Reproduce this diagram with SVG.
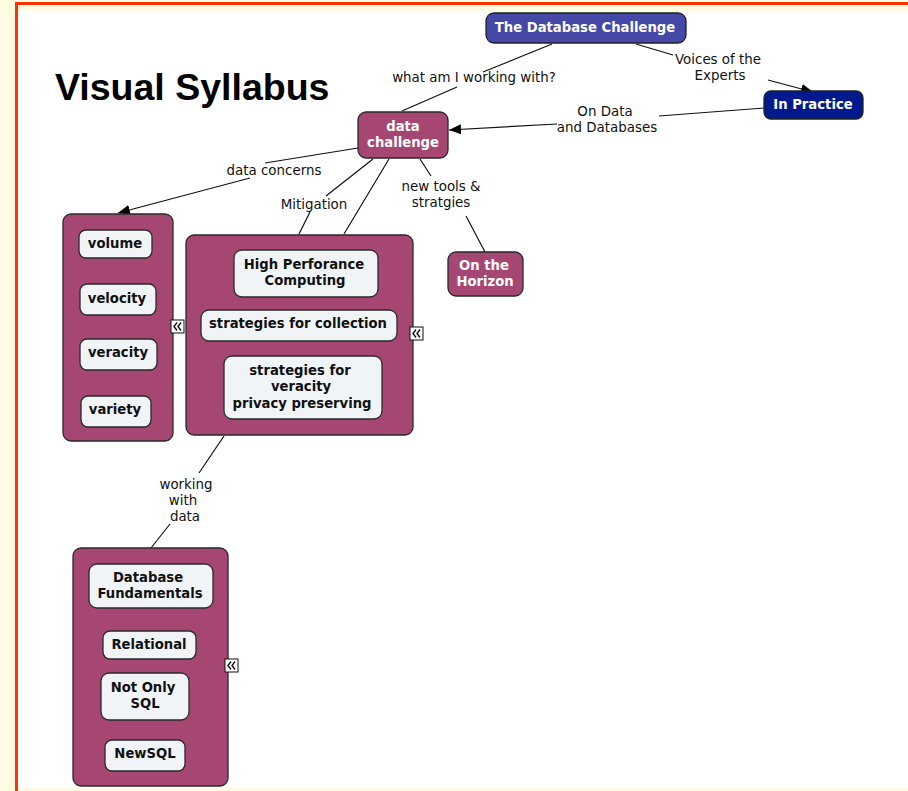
<svg xmlns="http://www.w3.org/2000/svg" width="908" height="791" viewBox="0 0 908 791">
  <style>
    .lbl { font-family: "DejaVu Sans", Verdana, sans-serif; font-size: 13.4px; fill: #111; text-anchor: middle; }
    .nt { font-family: "DejaVu Sans", Verdana, sans-serif; font-size: 13.2px; font-weight: bold; text-anchor: middle; }
    .w { fill: #fff; }
    .k { fill: #111; }
    .mag { fill: #A64673; stroke: #2a2a2a; stroke-width: 1.3; }
    .inner { fill: #F0F4F7; stroke: #2a2a2a; stroke-width: 1.3; }
    .con { stroke: #111; stroke-width: 1.2; fill: none; }
    .icon rect { fill: #fff; stroke: #111; stroke-width: 1; }
    .icon path { fill: none; stroke: #111; stroke-width: 1.4; }
  </style>
  <defs>
    <marker id="arr" viewBox="0 0 12 10" refX="12" refY="5" markerWidth="12" markerHeight="10" markerUnits="userSpaceOnUse" orient="auto">
      <path d="M0,0 L12,5 L0,10 Z" fill="#000"/>
    </marker>
  </defs>

  <!-- page background and frame -->
  <rect x="0" y="0" width="908" height="791" fill="#FEFBE3"/>
  <rect x="18" y="11" width="890" height="777" fill="#fff"/>
  <line x1="16.5" y1="2" x2="16.5" y2="791" stroke="#FF3300" stroke-width="3"/>
  <line x1="15" y1="3.5" x2="908" y2="3.5" stroke="#FF3300" stroke-width="3"/>

  <text x="55" y="100" font-family="Liberation Sans, Arial, sans-serif" font-size="37.5" font-weight="bold" fill="#000">Visual Syllabus</text>

  <g id="connectors">
    <!-- The Database Challenge -> data challenge -->
    <line class="con" x1="552" y1="44" x2="483" y2="72"/>
    <line class="con" x1="457" y1="87" x2="402" y2="111"/>
    <text class="lbl" x="474" y="82">what am I working with?</text>
    <!-- The Database Challenge -> In Practice -->
    <line class="con" x1="636" y1="44" x2="673" y2="55"/>
    <line class="con" x1="768" y1="80" x2="813" y2="92" marker-end="url(#arr)"/>
    <text class="lbl" x="718" y="64">Voices of the</text>
    <text class="lbl" x="720" y="80">Experts</text>
    <!-- In Practice -> data challenge -->
    <line class="con" x1="764" y1="108" x2="659" y2="116"/>
    <line class="con" x1="557" y1="124" x2="449" y2="130" marker-end="url(#arr)"/>
    <text class="lbl" x="605" y="116">On Data</text>
    <text class="lbl" x="607" y="132">and Databases</text>
    <!-- data challenge -> concerns -->
    <line class="con" x1="358" y1="148" x2="265" y2="163"/>
    <line class="con" x1="250" y1="178" x2="118" y2="213" marker-end="url(#arr)"/>
    <text class="lbl" x="274" y="175">data concerns</text>
    <!-- data challenge -> mitigation -->
    <line class="con" x1="373" y1="159" x2="326" y2="196"/>
    <line class="con" x1="310" y1="212" x2="299" y2="234"/>
    <text class="lbl" x="314" y="209">Mitigation</text>
    <line class="con" x1="389" y1="159" x2="344" y2="234"/>
    <!-- data challenge -> On the Horizon -->
    <line class="con" x1="420" y1="159" x2="431" y2="176"/>
    <line class="con" x1="466" y1="216" x2="485" y2="252"/>
    <text class="lbl" x="441" y="191">new tools &amp;</text>
    <text class="lbl" x="441" y="207">stratgies</text>
    <!-- mitigation -> database -->
    <line class="con" x1="224" y1="436" x2="199" y2="473"/>
    <line class="con" x1="170" y1="524" x2="151" y2="548"/>
    <text class="lbl" x="186" y="489">working</text>
    <text class="lbl" x="183" y="505">with</text>
    <text class="lbl" x="185" y="521">data</text>
  </g>

  <g id="db-challenge">
    <rect x="486" y="13" width="200" height="30" rx="8" fill="#4448A6" stroke="#222" stroke-width="1.3"/>
    <text class="nt w" x="585" y="32">The Database Challenge</text>
  </g>

  <g id="in-practice">
    <rect x="764" y="91" width="99" height="28" rx="7" fill="#001A8E" stroke="#222" stroke-width="1.3"/>
    <text class="nt w" x="813" y="109">In Practice</text>
  </g>

  <g id="data-challenge">
    <rect class="mag" x="358" y="112" width="90" height="46" rx="8"/>
    <text class="nt w" x="403" y="131">data</text>
    <text class="nt w" x="403" y="147">challenge</text>
  </g>

  <g id="on-the-horizon">
    <rect class="mag" x="448" y="252" width="75" height="44" rx="8"/>
    <text class="nt w" x="484" y="270">On the</text>
    <text class="nt w" x="485" y="286">Horizon</text>
  </g>

  <g id="concerns">
    <rect class="mag" x="63" y="214" width="110" height="227" rx="8"/>
    <rect class="inner" x="79" y="230" width="73" height="28" rx="7"/>
    <text class="nt k" x="115" y="248">volume</text>
    <rect class="inner" x="80" y="284" width="76" height="31" rx="7"/>
    <text class="nt k" x="117" y="303">velocity</text>
    <rect class="inner" x="80" y="339" width="77" height="31" rx="7"/>
    <text class="nt k" x="118" y="357">veracity</text>
    <rect class="inner" x="81" y="396" width="70" height="31" rx="7"/>
    <text class="nt k" x="115" y="414">variety</text>
    <g class="icon"><rect x="171" y="320" width="13" height="13"/><path d="M177,322.5 L174,326.5 L177,330.5 M181,322.5 L178,326.5 L181,330.5"/></g>
  </g>

  <g id="mitigation">
    <rect class="mag" x="186" y="235" width="227" height="200" rx="8"/>
    <rect class="inner" x="234" y="250" width="144" height="47" rx="8"/>
    <text class="nt k" x="304" y="269">High Perforance</text>
    <text class="nt k" x="305" y="285">Computing</text>
    <rect class="inner" x="201" y="310" width="196" height="31" rx="8"/>
    <text class="nt k" x="298" y="328">strategies for collection</text>
    <rect class="inner" x="224" y="356" width="158" height="63" rx="8"/>
    <text class="nt k" x="300" y="375">strategies for</text>
    <text class="nt k" x="301" y="391">veracity</text>
    <text class="nt k" x="302" y="408">privacy preserving</text>
    <g class="icon"><rect x="410" y="327" width="13" height="13"/><path d="M416,329.5 L413,333.5 L416,337.5 M420,329.5 L417,333.5 L420,337.5"/></g>
  </g>

  <g id="database">
    <rect class="mag" x="73" y="548" width="155" height="238" rx="8"/>
    <rect class="inner" x="89" y="564" width="124" height="44" rx="8"/>
    <text class="nt k" x="148" y="582">Database</text>
    <text class="nt k" x="150" y="598">Fundamentals</text>
    <rect class="inner" x="103" y="631" width="93" height="28" rx="7"/>
    <text class="nt k" x="149" y="649">Relational</text>
    <rect class="inner" x="101" y="673" width="88" height="47" rx="8"/>
    <text class="nt k" x="143" y="692">Not Only</text>
    <text class="nt k" x="145" y="708">SQL</text>
    <rect class="inner" x="105" y="740" width="80" height="31" rx="7"/>
    <text class="nt k" x="145" y="758">NewSQL</text>
    <g class="icon"><rect x="225" y="659" width="13" height="13"/><path d="M231,661.5 L228,665.5 L231,669.5 M235,661.5 L232,665.5 L235,669.5"/></g>
  </g>
</svg>
